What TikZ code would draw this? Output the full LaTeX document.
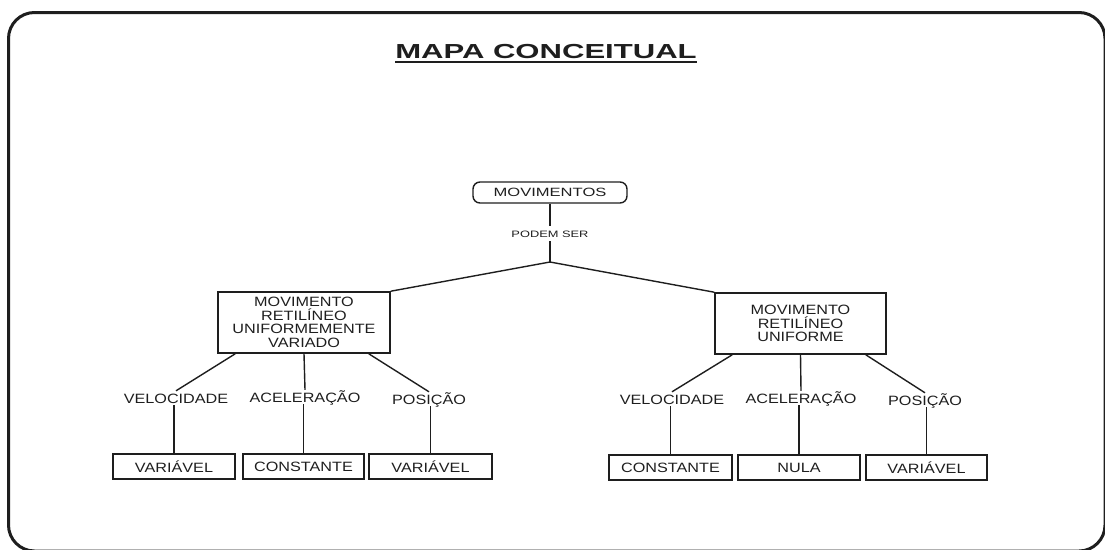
\documentclass[tikz,border=0pt]{standalone}
\usepackage{fontspec}
\setmainfont{Liberation Sans}[FakeStretch=1.2]
\newfontfamily\widefont{Liberation Sans}[FakeStretch=1.38]
\newfontfamily\titlefont{Liberation Sans}[FakeStretch=1.53]
\definecolor{ink}{RGB}{30,30,30}
\tikzset{
  box/.style={draw=ink, line width=1.6pt, inner sep=0pt, align=center, text=ink,
    font=\fontsize{13.5}{13.6}\selectfont},
  leaf/.style={box, minimum height=25pt},
  lbl/.style={inner xsep=1pt, inner ysep=2pt, text height=10pt, text depth=0pt, text=ink,
    font=\fontsize{13.5}{13.6}\selectfont},
  conn/.style={draw=ink, line width=1.4pt},
}
\begin{document}
\begin{tikzpicture}[x=1pt,y=-1pt]
\useasboundingbox (0,0) rectangle (1105,549);
\begin{scope}
  \clip (0,0) rectangle (1105,549);
  \draw[ink, line width=3pt, rounded corners=26pt] (8.5,12.5) rectangle (1105,551);
\end{scope}
% title
\node[inner xsep=0pt, text=ink, font=\titlefont\bfseries\fontsize{20.3}{20.3}\selectfont] (title) at (546,52) {MAPA CONCEITUAL};
\draw[ink, line width=1.8pt] ([yshift=-3.2pt]title.base west) -- ([yshift=-3.2pt]title.base east);
% root
\node[box, rounded corners=7pt, minimum width=154pt, minimum height=21pt, line width=1.4pt,
  font=\widefont\fontsize{12}{12}\selectfont] (mov) at (550,192.5) {MOVIMENTOS};
\node[inner xsep=1pt, inner ysep=4pt, text height=7pt, text depth=0pt, text=ink,
  font=\widefont\fontsize{9.3}{9.3}\selectfont] (podem) at (550,233.5) {PODEM SER};
\coordinate (j) at (550,262);
\draw[conn] (mov.south) -- (podem.north);
\draw[conn] (podem.south) -- (j);
% second level
\node[box, minimum width=172pt, minimum height=61pt] (mruv) at (304,322.5) {MOVIMENTO\\RETILÍNEO\\UNIFORMEMENTE\\VARIADO};
\node[box, minimum width=171pt, minimum height=61pt] (mru) at (800.5,323.5) {MOVIMENTO\\RETILÍNEO\\UNIFORME};
\draw[conn] (j) -- (mruv.north east);
\draw[conn] (j) -- (mru.north west);
% labels left
\node[lbl] (vl) at (176,398) {VELOCIDADE};
\node[lbl] (al) at (305,397) {ACELERAÇÃO};
\node[lbl] (pl) at (429,399) {POSIÇÃO};
% labels right
\node[lbl] (vr) at (672,399) {VELOCIDADE};
\node[lbl] (ar) at (801,398) {ACELERAÇÃO};
\node[lbl] (pr) at (925,400) {POSIÇÃO};
\draw[conn] ([xshift=18pt]mruv.south west) -- (vl.north);
\draw[conn] (mruv.south) -- (al.north);
\draw[conn] ([xshift=-22pt]mruv.south east) -- (pl.north);
\draw[conn] ([xshift=18pt]mru.south west) -- (vr.north);
\draw[conn] (mru.south) -- (ar.north);
\draw[conn] ([xshift=-21pt]mru.south east) -- (pr.north);
% leaves
\node[leaf, minimum width=122pt] (l1) at (174,466.5) {VARIÁVEL};
\node[leaf, minimum width=121pt] (l2) at (303.5,466.5) {CONSTANTE};
\node[leaf, minimum width=123pt] (l3) at (430.5,466.5) {VARIÁVEL};
\node[leaf, minimum width=123pt] (r1) at (670.5,467.5) {CONSTANTE};
\node[leaf, minimum width=122pt] (r2) at (799,467.5) {NULA};
\node[leaf, minimum width=121pt] (r3) at (926.5,467.5) {VARIÁVEL};
\draw[conn] (vl.south -| l1.north) -- (l1.north);
\draw[conn] (al.south -| l2.north) -- (l2.north);
\draw[conn] (pl.south -| l3.north) -- (l3.north);
\draw[conn] (vr.south -| r1.north) -- (r1.north);
\draw[conn] (ar.south -| r2.north) -- (r2.north);
\draw[conn] (pr.south -| r3.north) -- (r3.north);
\end{tikzpicture}
\end{document}
